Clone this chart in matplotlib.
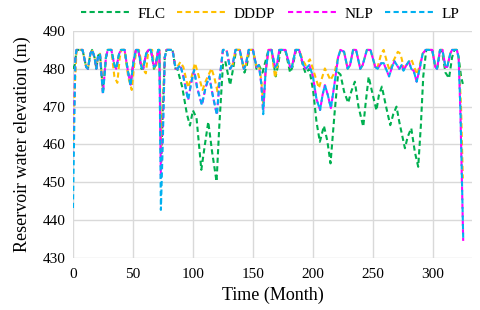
import matplotlib
matplotlib.use("Agg")
import matplotlib.pyplot as plt

plt.rcParams['font.family'] = ['Liberation Serif', 'DejaVu Serif']

# ---- data (month, elevation) ----
t_opt = [0, 2, 3, 8, 11, 12.5, 14.5, 16, 18, 19.5, 21, 22.5, 25, 27.5, 29, 32, 34.5, 36, 38.5, 40,
         43, 46, 48, 50.5, 52.5, 54.5, 57, 58.5, 61, 63, 65, 67.5, 69, 71, 72, 73.3, 75, 76.5, 78, 83,
         85.5, 87, 89.5, 92, 96, 99, 101, 103.5, 107.5, 110.5, 113.6, 116.5, 120, 122.5, 125, 128, 131, 133, 135.5, 139,
         142.5, 144, 146.5, 150, 153, 155, 157, 158.6, 160.5, 163, 165.5, 168.5, 170, 172, 177, 181, 182.5, 185.5, 188.5, 192,
         194, 197, 200, 203, 206, 208, 210, 212.5, 215, 218, 221, 223, 226, 229, 231, 233.5, 236, 239.5, 241.5, 245,
         248, 252, 254, 257, 259, 263.5, 266, 268, 270, 272, 274, 275.5, 278, 280, 282, 284, 286.5, 289, 291.5, 294,
         299.5, 302, 303.5, 306, 308, 310.5, 312, 314.5, 316, 320, 321.5, 323, 325.3]
nlp = [456.8, 483, 485, 485, 480.5, 480, 484, 485, 483, 480, 483.5, 484, 473.5, 483, 485, 485, 481, 480, 484, 485,
       485, 479, 475.8, 482, 485, 485, 480.5, 480, 484, 485, 485, 480.5, 481, 485, 485, 451, 465, 483, 485, 485,
       480, 480, 481, 478, 471.8, 477, 479.7, 475, 470.4, 475, 478, 473, 467.8, 478, 485, 485, 480, 481, 485, 485,
       480, 481, 485, 485, 480.5, 481, 476, 468.8, 479, 485, 485, 480.5, 481, 485, 485, 480.5, 480.5, 485, 485, 481,
       480, 481, 478, 472, 469.1, 473, 475.7, 473, 469.6, 476, 483, 485, 484.5, 480, 481, 485, 485, 480, 481, 485,
       485, 480.5, 480, 481.5, 481.5, 478, 480.5, 482, 481, 480, 481, 479.5, 481, 482, 480, 479.5, 476.6, 480, 484, 485,
       485, 480.5, 480, 485, 485, 480.5, 480.5, 484, 485, 485, 483, 468, 434.5]
lp = [443.2, 483, 485, 485, 480.5, 480, 484, 485, 483, 480, 483.5, 484, 473.2, 483, 485, 485, 481, 480, 484, 485,
      485, 479, 475.5, 482, 485, 485, 480.5, 480, 484, 485, 485, 480.5, 481, 485, 485, 442.7, 462, 483, 485, 485,
      480, 480, 481, 478, 471.8, 477, 479.7, 475, 470.4, 475, 478, 473, 467.8, 478, 485, 485, 480, 481, 485, 485,
      480, 481, 485, 485, 480.5, 481, 476, 468.0, 479, 485, 485, 480.5, 481, 485, 485, 480.5, 480.5, 485, 485, 481,
      480, 481, 478, 472, 469.1, 473, 475.7, 473, 469.6, 476, 483, 485, 484.5, 480, 481, 485, 485, 480, 481, 485,
      485, 480.5, 480, 481.5, 481.5, 478, 480.5, 482, 481, 480, 481, 479.5, 481, 482, 480, 479.5, 476.6, 480, 484, 485,
      485, 480.5, 480, 485, 485, 480.5, 480.5, 484, 485, 485, 483, 469, 435.3]

t_dddp = [0, 1.5, 3, 8, 11, 12.5, 14.5, 16, 18, 19.5, 21, 22.5, 25, 27.5, 29, 32, 34.5, 37, 39, 40.5,
          43, 46, 49, 51, 53, 55, 58, 60.8, 62.5, 64, 66, 68, 69.5, 71, 72, 73.5, 75, 76.5, 78, 83,
          85.5, 87, 89.5, 92, 96, 99, 101.7, 104.5, 108, 111, 115.5, 118, 120.5, 123, 125, 128, 131, 133, 135.5, 139,
          142.5, 144, 146.5, 150, 153, 155, 157, 158.6, 160.5, 163, 165.5, 168.5, 170.5, 172, 177, 181, 182.5, 185.5, 188.5, 192,
          194, 197.5, 201, 205, 207.5, 210, 212.5, 214.7, 218, 221, 223, 226, 229, 231, 233.5, 236, 239.5, 241.5, 245, 248,
          252, 254, 257, 259, 262, 264, 267, 270.8, 273, 276, 278, 282, 285, 287, 289, 291.5, 294, 299.5, 302, 303.5,
          306, 308, 310.5, 312, 314.5, 316, 320, 321.5, 323.5, 325]
dddp = [461, 475, 485, 485, 480.5, 480, 484, 485, 483, 480, 483.5, 484, 474.5, 483, 485, 485, 478, 476.3, 483, 485,
        485, 478, 474.4, 481, 485, 485, 480, 478.8, 484, 485, 485, 480, 481, 485, 485, 458, 470, 483, 485, 485,
        480.5, 480.5, 481.8, 480.5, 475, 478, 481.5, 478.5, 474.4, 477, 480.1, 477.5, 474, 479, 485, 485, 480.5, 481, 485, 485,
        480, 481, 485, 485, 480.5, 481, 477, 470.5, 479, 485, 485, 477.6, 481, 485, 485, 480.5, 480.5, 485, 485, 482,
        481, 482.5, 479, 474.9, 477.5, 480.1, 478.5, 477, 479, 483, 485, 484.5, 480, 481, 485, 485, 480, 481, 485, 485,
        480.5, 480.5, 484, 485, 481.5, 479.5, 482, 484.5, 484, 480, 481, 482.6, 480, 478.5, 481, 484, 485, 485, 480.5, 480,
        485, 485, 480.5, 480.5, 484, 485, 485, 483, 470, 451]

t_flc = [0, 1.5, 3, 8, 11, 12.5, 14.5, 16, 18, 19.5, 21, 22.5, 25, 27.5, 29, 32, 34.5, 36, 38.5, 40,
         43, 46, 48, 50.5, 52.5, 54.5, 57, 58.5, 61, 63, 65, 67.5, 69, 71, 72, 73.5, 75, 76.5, 78, 83,
         85.5, 87, 91, 95, 97.5, 100, 103, 107, 110, 112.8, 116, 119.7, 122, 125, 127, 131, 133.5, 136, 139, 143,
         145, 147, 150, 153, 155, 158, 160.5, 163, 165.5, 169, 171, 173, 177, 181, 183, 186, 188.5, 192, 194, 197,
         200.3, 203, 205.8, 209.2, 212, 214.7, 218, 221.1, 223, 226, 229.4, 232, 235, 238, 242, 244, 246.5, 250, 253, 255,
         257.5, 261, 264.5, 267, 269.7, 272, 276.7, 279, 282, 285, 287.8, 290, 292, 294.5, 299.5, 302, 304, 306, 308, 310.5,
         313.5, 316, 318, 320, 321.5, 323.5, 325]
flc = [480, 481, 485, 485, 480.5, 480, 484, 485, 483, 480, 483.5, 484, 474, 483, 485, 485, 481, 480, 484, 485,
       485, 479, 476, 482, 485, 485, 480, 480, 484, 485, 485, 480, 481, 485, 485, 455, 470, 483, 485, 485,
       480, 480, 475.3, 468, 465, 469, 467, 453.3, 460, 466, 458, 450.2, 465, 481, 482, 475.7, 480, 485, 485, 479,
       481, 485, 485, 480, 481, 479, 482, 485, 485, 478, 481, 485, 485, 479, 480.5, 485, 485, 480.5, 478.8, 480,
       474, 466, 460.7, 464.9, 461, 455, 468, 479, 478.5, 474, 471, 474, 476.6, 470, 464.7, 471, 477.9, 473, 469, 473,
       475.3, 470, 465.1, 468, 470, 466, 459, 462, 464.3, 458, 454.1, 465, 478, 485, 485, 480.5, 480.5, 485, 484, 479,
       477.5, 483, 485, 485, 483, 478, 476]

series = [
    ("FLC", t_flc, flc, "#00B050"),
    ("DDDP", t_dddp, dddp, "#FFC000"),
    ("NLP", t_opt, nlp, "#FF00FF"),
    ("LP", t_opt, lp, "#00B0F0"),
]

fig = plt.figure(figsize=(4.8, 3.1), dpi=100)
ax = fig.add_axes([0.152, 0.168, 0.831, 0.732])

for name, t, v, c in series:
    ax.plot(t, v, color=c, lw=1.5, linestyle=(0, (2.5, 1.6)), label=name,
            solid_joinstyle='round', dash_capstyle='butt')

ax.set_xlim(0, 332.5)
ax.set_ylim(430, 490)
ax.set_xticks(range(0, 301, 50))
ax.set_yticks(range(430, 491, 10))
ax.grid(True, color='#d9d9d9', lw=1.0)
ax.set_axisbelow(True)
for s in ax.spines.values():
    s.set_visible(False)
ax.tick_params(axis='x', length=0, labelsize=11, pad=7)
ax.tick_params(axis='y', length=0, labelsize=11, pad=5)
ax.set_xlabel("Time (Month)", fontsize=13, labelpad=4)
ax.set_ylabel("Reservoir water elevation (m)", fontsize=13, labelpad=9)

fig.legend(loc='center', bbox_to_anchor=(0.563, 0.955), ncol=4, frameon=False,
           fontsize=11, handlelength=3.2, handletextpad=0.5, columnspacing=0.8)

fig.savefig("out.png", dpi=100)
